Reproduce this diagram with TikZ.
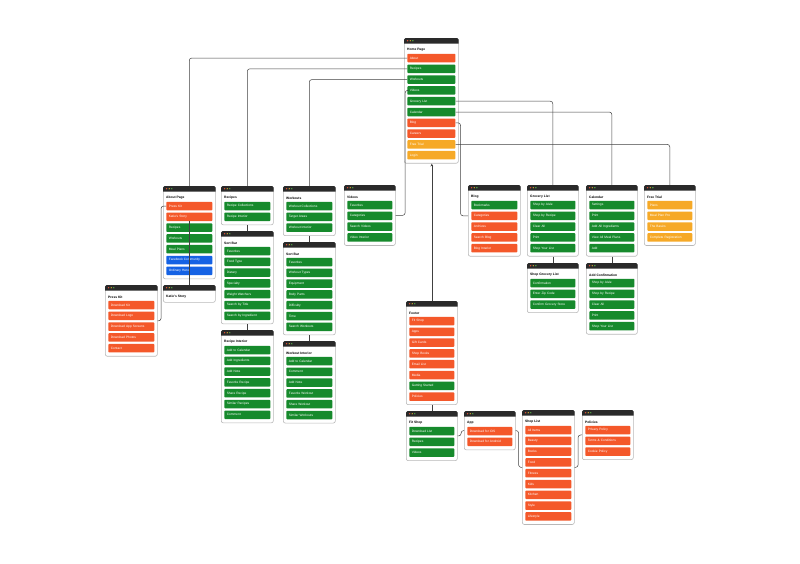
\documentclass[tikz,border=0pt]{standalone}
\usepackage{fontspec}
\setsansfont{Liberation Sans}
\usetikzlibrary{arrows.meta}

\definecolor{ora}{HTML}{F4582A}
\definecolor{grn}{HTML}{168A2C}
\definecolor{blu}{HTML}{1562E4}
\definecolor{yel}{HTML}{F6A927}
\definecolor{headcol}{HTML}{2A2A2A}
\definecolor{dotred}{HTML}{E8553A}
\definecolor{dotyellow}{HTML}{F2C230}
\definecolor{dotgreen}{HTML}{5BBE4A}

\tikzset{
  pagebox/.style={draw=black!28, line width=0.6pt, fill=white, rounded corners=2pt, inner sep=0pt},
  headbar/.style={fill=headcol},
  boxtitle/.style={font=\sffamily\bfseries\fontsize{3.3}{3.8}\selectfont, inner sep=0pt},
  item/.style={rectangle, rounded corners=0.8pt, text=white, font=\sffamily\fontsize{3.2}{3.6}\selectfont,
    minimum height=8.5pt, inner xsep=2.5pt, inner ysep=0pt, align=left},
  link/.style={draw=black!75, line width=0.5pt, rounded corners=2.5pt}
}

% one page card: name, left, top, width, title, number of items, items (colour/text)
\newcommand{\pagecard}[7]{%
  \pgfmathsetmacro{\cardh}{#6>0 ? 27.75+(#6-1)*10.8 : 17}
  \pgfmathsetmacro{\itemtw}{#4-11}
  \node[pagebox, minimum width=#4pt, minimum height=\cardh pt, anchor=north west] (#1) at (#2,#3) {};
  \fill[headbar] ([yshift=-5.5pt]#1.north west) [rounded corners=1.5pt] -- (#1.north west)
    -- (#1.north east) [sharp corners] -- ([yshift=-5.5pt]#1.north east) -- cycle;
  \foreach \dc [count=\d] in {dotred,dotyellow,dotgreen}
    \fill[\dc] ([xshift={1pt+\d*2.6pt}, yshift=-2.75pt]#1.north west) circle (0.7pt);
  \node[boxtitle, anchor=west] (#1-title) at ([xshift=3pt, yshift=-12pt]#1.north west) {#5};
  \ifnum#6>0
    \foreach \c/\t [count=\i] in {#7}
      \node[item, fill=\c, text width=\itemtw pt] (#1-\i) at ([yshift={-20pt-(\i-1)*10.8pt}]#1.north) {\t};
  \fi
}

\begin{document}
\begin{tikzpicture}[x=1pt, y=-1pt]
  \useasboundingbox (0,0) rectangle (800,563);

  % Home page
  \pagecard{home}{404}{38}{54}{Home Page}{10}{ora/About, grn/Recipes, grn/Workouts, grn/Videos,
    grn/Grocery List, grn/Calendar, ora/Blog, ora/Careers, yel/Free Trial, yel/Login}

  % About section
  \pagecard{about}{163}{186}{52}{About Page}{7}{ora/Press Kit, ora/Katie's Story, grn/Recipes,
    grn/Workouts, grn/Meal Plans, blu/Facebook Community, blu/Ordinary Hero}
  \pagecard{katie}{163}{285}{52}{Katie's Story}{0}{}
  \pagecard{presskit}{105}{285}{52}{Press Kit}{5}{ora/Download Kit, ora/Download Logo,
    ora/Download App Screens, ora/Download Photos, ora/Contact}

  % Recipes section
  \pagecard{recipes}{221}{186}{52}{Recipes}{2}{grn/Recipe Collections, grn/Recipe Interior}
  \pagecard{rsort}{221}{231}{52}{Sort Bar}{7}{grn/Favorites, grn/Food Type, grn/Dietary,
    grn/Specialty, grn/Weight Watchers, grn/Search by Title, grn/Search by Ingredient}
  \pagecard{rinterior}{221}{330}{52}{Recipe Interior}{7}{grn/Add to Calendar, grn/Add Ingredients,
    grn/Add Note, grn/Favorite Recipe, grn/Share Recipe, grn/Similar Recipes, grn/Comment}

  % Workouts section
  \pagecard{workouts}{283}{186}{52}{Workouts}{3}{grn/Workout Collections, grn/Target Areas,
    grn/Workout Interior}
  \pagecard{wsort}{283}{242}{52}{Sort Bar}{7}{grn/Favorites, grn/Workout Types, grn/Equipment,
    grn/Body Parts, grn/Difficulty, grn/Time, grn/Search Workouts}
  \pagecard{winterior}{283}{341}{52}{Workout Interior}{6}{grn/Add to Calendar, grn/Comment,
    grn/Add Note, grn/Favorite Workout, grn/Share Workout, grn/Similar Workouts}

  % Videos
  \pagecard{videos}{344}{185}{51}{Videos}{4}{grn/Favorites, grn/Categories, grn/Search Videos,
    grn/Video Interior}

  % Blog, grocery list, calendar, free trial
  \pagecard{blog}{468}{185}{52}{Blog}{5}{grn/Bookmarks, ora/Categories, ora/Archives,
    ora/Search Blog, ora/Blog Interior}
  \pagecard{grocery}{527}{185}{51}{Grocery List}{5}{grn/Shop by Aisle, grn/Shop by Recipe,
    grn/Clear All, grn/Print, grn/Shop Your List}
  \pagecard{shopgrocery}{527}{263}{51}{Shop Grocery List}{3}{grn/Confirmation, grn/Enter Zip Code,
    grn/Confirm Grocery Store}
  \pagecard{calendar}{586}{185}{51}{Calendar}{5}{grn/Settings, grn/Print, grn/Add All Ingredients,
    grn/View All Meal Plans, grn/Add}
  \pagecard{addconfirm}{586}{263}{51}{Add Confirmation}{5}{grn/Shop by Aisle, grn/Shop by Recipe,
    grn/Clear All, grn/Print, grn/Shop Your List}
  \pagecard{freetrial}{644}{185}{51}{Free Trial}{4}{yel/Plans, yel/Meal Plan Pro, yel/The Basics,
    yel/Complete Registration}

  % Footer and its pages
  \pagecard{footer}{406}{301}{51}{Footer}{8}{ora/Fit Shop, ora/Apps, ora/Gift Cards, ora/Shop Books,
    ora/Email List, ora/Media, grn/Getting Started, ora/Policies}
  \pagecard{fitshop}{406}{411}{51}{Fit Shop}{3}{grn/Download List, grn/Recipes, grn/Videos}
  \pagecard{app}{464}{411}{51}{App}{2}{ora/Download for iOS, ora/Download for Android}
  \pagecard{shoplist}{522}{410}{52}{Shop List}{9}{ora/All Items, ora/Beauty, ora/Books, ora/Food,
    ora/Fitness, ora/Kids, ora/Kitchen, ora/Style, ora/Lifestyle}
  \pagecard{policies}{582}{410}{51}{Policies}{3}{ora/Privacy Policy, ora/Terms \& Conditions,
    ora/Cookie Policy}

  % Connectors from the home page
  \draw[link] (home-1.west) -| (about.north);
  \draw[link] (home-2.west) -| (recipes.north);
  \draw[link] (home-3.west) -| (workouts.north);
  \draw[link] (home-4.west) -- ++(-2,0) |- (videos.east);
  \draw[link] (home-5.east) -| (grocery.north);
  \draw[link] (home-6.east) -| (calendar.north);
  \draw[link] (home-7.east) -- ++(5,0) |- (blog.west |- blog-2);
  \draw[link] (home-9.east) -| (freetrial.north);

  % Connectors inside the sections
  \draw[link] (about-1.west) -- ++(-5,0) |- (presskit.east);
  \draw[link] (about-2) -- (katie);
  \draw[link] (recipes) -- (rsort);
  \draw[link] (rsort) -- (rinterior);
  \draw[link] (workouts) -- (wsort);
  \draw[link] (wsort) -- (winterior);
  \draw[link] (grocery) -- (shopgrocery);
  \draw[link] (calendar) -- (addconfirm);

  % Footer back to home, and the footer pages
  \draw[link, -{Stealth[length=3pt, width=2.6pt]}] (footer.north) -- (footer.north |- home.south);
  \draw[link] (footer) -- (fitshop);
  \draw[link] (fitshop.east) -- ++(3.5,0) |- (app.west);
  \draw[link] (app.east) -- ++(3,0) |- (shoplist.west);
  \draw[link] (shoplist.east) -- ++(3.5,0) |- (policies.west);
\end{tikzpicture}
\end{document}
